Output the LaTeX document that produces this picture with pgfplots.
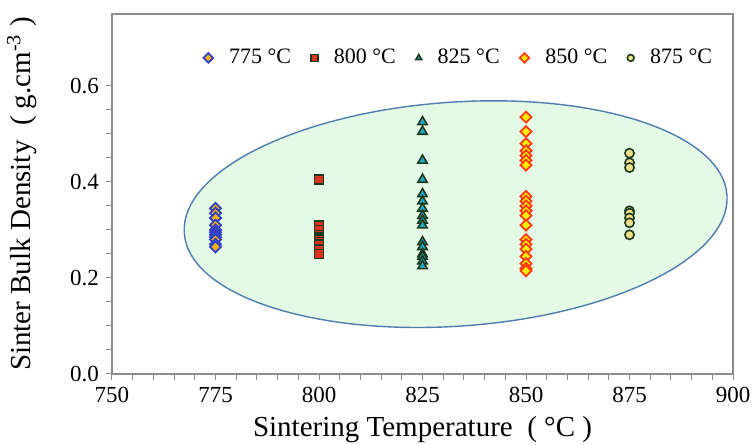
\documentclass[border=0pt]{standalone}
\usepackage{fontspec}
\setmainfont{Liberation Serif}
\usepackage{pgfplots}
\pgfplotsset{compat=1.18}
\definecolor{ellfill}{RGB}{229,250,229}
\definecolor{elldraw}{RGB}{80,125,175}
\definecolor{axgray}{RGB}{140,140,140}
\definecolor{cA}{RGB}{245,176,0}
\definecolor{dA}{RGB}{46,63,204}
\definecolor{cB}{RGB}{224,48,32}
\definecolor{dG}{RGB}{30,58,30}
\definecolor{cC}{RGB}{32,168,200}
\definecolor{cD}{RGB}{255,238,0}
\definecolor{dD}{RGB}{255,60,16}
\definecolor{cE}{RGB}{238,224,138}
\begin{document}
\begin{tikzpicture}
\begin{axis}[
  scale only axis,
  width=310.5pt, height=180pt,
  xmin=750, xmax=900, ymin=0, ymax=0.75,
  xtick={750,775,...,900}, ytick={0,0.2,0.4,0.6},
  minor x tick num=4, minor y tick num=3,
  tick align=outside, xtick pos=bottom, ytick pos=left,
  major tick length=3pt, minor tick length=3pt,
  axis line style={axgray, line width=0.6pt},
  every tick/.style={axgray, line width=0.5pt},
  /pgf/number format/assume math mode=true,
  yticklabel style={/pgf/number format/fixed, /pgf/number format/fixed zerofill, /pgf/number format/precision=1},
  xticklabel style={/pgf/number format/1000 sep={}},
  tick label style={font=\fontsize{11.5}{13}\selectfont},
  label style={font=\fontsize{14.5}{17}\selectfont},
  xlabel={Sintering Temperature\ \ ( °C )},
  ylabel={Sinter Bulk Density\ \ ( g.cm\textsuperscript{-3} )},
  xlabel style={at={(axis description cs:0.5,-0.155)}, anchor=center},
  ylabel style={at={(axis description cs:-0.145,0.5)}, anchor=center},
  legend columns=-1,
  legend style={at={(axis description cs:0.56,0.878)}, anchor=center, draw=none, fill=none,
    font=\fontsize{11}{13}\selectfont,
    /tikz/every even column/.append style={column sep=8pt},
    /tikz/every odd column/.append style={column sep=6pt}},
  legend image post style={mark size=1.7pt},
  mark size=2.4pt,
]
\draw[fill=ellfill, draw=elldraw, line width=0.7pt, rotate around={4:(axis cs:833,0.333)}] (axis cs:833,0.333) ellipse [x radius=136pt, y radius=56pt];
\addplot[only marks, mark=square*, mark size=1.95pt, mark options={rotate=45, fill=cA, draw=dA, line width=0.9pt}] coordinates {
(775,0.345)(775,0.335)(775,0.325)(775,0.31)(775,0.30)(775,0.295)(775,0.29)(775,0.285)(775,0.28)(775,0.27)(775,0.265)};
\addlegendentry{775 °C}
\addplot[only marks, mark=square*, mark size=2.2pt, mark options={fill=cB, draw=dG, line width=0.8pt}] coordinates {
(800,0.405)(800,0.31)(800,0.30)(800,0.29)(800,0.285)(800,0.28)(800,0.275)(800,0.27)(800,0.26)(800,0.25)};
\addlegendentry{800 °C}
\addplot[only marks, mark=triangle*, mark size=2.7pt, mark options={fill=cC, draw=dG, line width=0.8pt}] coordinates {
(825,0.525)(825,0.505)(825,0.445)(825,0.405)(825,0.375)(825,0.36)(825,0.345)(825,0.33)(825,0.32)(825,0.31)(825,0.275)(825,0.265)(825,0.25)(825,0.245)(825,0.235)(825,0.225)};
\addlegendentry{825 °C}
\addplot[only marks, mark=square*, mark size=1.95pt, mark options={rotate=45, fill=cD, draw=dD, line width=0.9pt}] coordinates {
(850,0.535)(850,0.505)(850,0.48)(850,0.465)(850,0.455)(850,0.445)(850,0.435)(850,0.37)(850,0.36)(850,0.35)(850,0.34)(850,0.33)(850,0.31)(850,0.28)(850,0.27)(850,0.26)(850,0.245)(850,0.23)(850,0.22)(850,0.215)};
\addlegendentry{850 °C}
\addplot[only marks, mark=*, mark size=2.3pt, mark options={fill=cE, draw=dG, line width=0.8pt}] coordinates {
(875,0.46)(875,0.44)(875,0.43)(875,0.34)(875,0.335)(875,0.325)(875,0.315)(875,0.29)};
\addlegendentry{875 °C}
\end{axis}
\pgfresetboundingbox
\path ([xshift=-56pt,yshift=-35.5pt]current axis.south west) rectangle ([xshift=10pt,yshift=7pt]current axis.north east);
\end{tikzpicture}
\end{document}
